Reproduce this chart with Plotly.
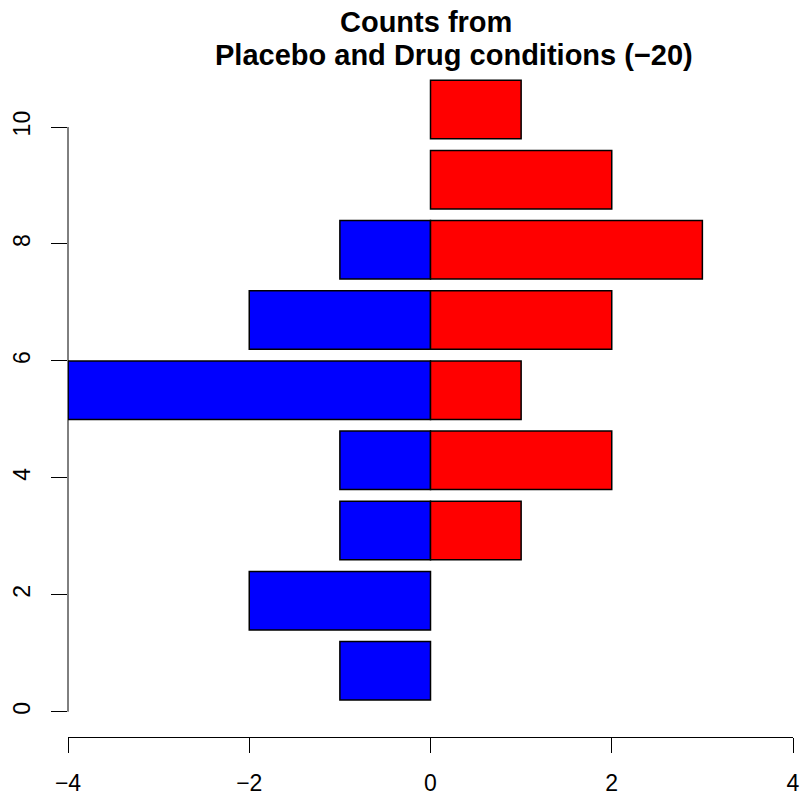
import plotly.graph_objects as go

# Data (R barplot, horiz=TRUE, space=0.2, width=1)
bar_index = [1, 2, 3, 4, 5, 6, 7, 8, 9]
placebo = [-1, -2, -1, -1, -4, -2, -1, 0, 0]   # blue, drawn to the left
drug = [0, 0, 1, 2, 1, 2, 3, 2, 1]             # red, drawn to the right
x_ticks = [-4, -2, 0, 2, 4]
y_ticks = [0, 2, 4, 6, 8, 10]
title_line1 = "Counts from"
title_line2 = "Placebo and Drug conditions (\u221220)"

SPACE = 0.2
WIDTH = 1.0
y_pos = [SPACE * i + WIDTH * (i - 1) + WIDTH / 2 for i in bar_index]
ymax = (SPACE + WIDTH) * len(bar_index)
pad = 0.04 * ymax

FONT = "Liberation Sans, Arial, Helvetica, sans-serif"
TICK_SIZE = 23

def nz(vals):
    return [v if v != 0 else None for v in vals]

fig = go.Figure()
fig.add_trace(go.Bar(
    y=y_pos, x=nz(placebo), orientation="h", width=WIDTH,
    marker=dict(color="#0000FF", line=dict(color="black", width=1.5)),
    name="Placebo", showlegend=False,
))
fig.add_trace(go.Bar(
    y=y_pos, x=nz(drug), orientation="h", width=WIDTH,
    marker=dict(color="#FF0000", line=dict(color="black", width=1.5)),
    name="Drug", showlegend=False,
))

W, H = 803, 797
L, R, T, B = 68, 10, 55, 60

fig.update_layout(
    width=W, height=H,
    margin=dict(l=L, r=R, t=T, b=B, pad=0, autoexpand=False),
    barmode="overlay",
    plot_bgcolor="white", paper_bgcolor="white",
    font=dict(family=FONT, size=TICK_SIZE, color="black"),
    xaxis=dict(
        range=[-4, 4], tickvals=x_ticks, ticks="outside", ticklen=15,
        tickwidth=1, tickcolor="black", showline=True, linecolor="black",
        linewidth=1, showgrid=False, zeroline=False, automargin=False,
        ticklabelstandoff=10, ticklabeloverflow="allow",
        tickfont=dict(size=TICK_SIZE, family=FONT),
    ),
    yaxis=dict(
        range=[-pad, ymax + pad], tickvals=y_ticks, ticks="outside", ticklen=16,
        tickwidth=1, tickcolor="black", showline=False, showgrid=False,
        zeroline=False, tickangle=-90, automargin=False,
        ticklabelstandoff=12, ticklabeloverflow="allow",
        tickfont=dict(size=TICK_SIZE, family=FONT),
    ),
    shapes=[dict(type="line", xref="paper", yref="y", x0=0, x1=0,
                 y0=y_ticks[0], y1=y_ticks[-1],
                 line=dict(color="black", width=1))],
)

pw = W - L - R
def px_to_paper_x(px):
    return (px - L) / pw

ph = H - T - B
def px_to_paper_y(py):
    return (H - B - py) / ph

fig.add_annotation(text="<b>%s</b>" % title_line1, xref="paper", yref="paper",
                   x=px_to_paper_x(426), y=px_to_paper_y(22), xanchor="center",
                   yanchor="middle", showarrow=False,
                   font=dict(size=29, family=FONT, color="black"))
fig.add_annotation(text="<b>%s</b>" % title_line2, xref="paper", yref="paper",
                   x=px_to_paper_x(454), y=px_to_paper_y(55), xanchor="center",
                   yanchor="middle", showarrow=False,
                   font=dict(size=29, family=FONT, color="black"))

fig.write_html(
    "out.html",
    config={"displayModeBar": False},
    post_script="document.body.style.margin='0';document.body.style.overflow='hidden';",
)
